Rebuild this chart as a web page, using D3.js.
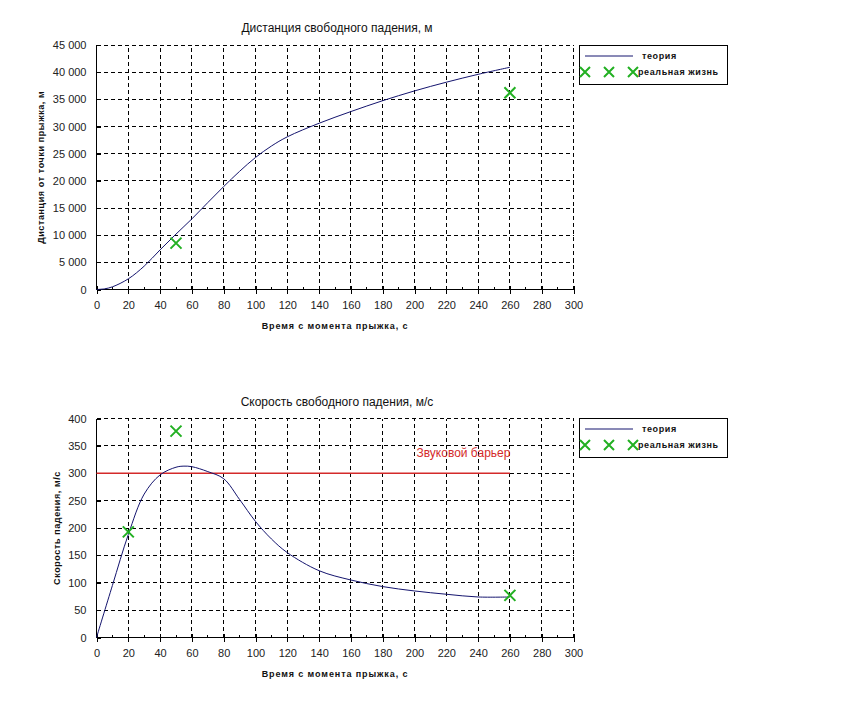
<!DOCTYPE html>
<html><head><meta charset="utf-8">
<script src="https://cdn.jsdelivr.net/npm/d3@7"></script>
<style>
body{margin:0;background:#fff;}
text{font-family:"Liberation Sans",Arial,sans-serif;}
</style></head>
<body><svg id="c" width="856" height="704"></svg>
<script>
// ---- data ----
const xTicks = [0,20,40,60,80,100,120,140,160,180,200,220,240,260,280,300];
const distTicks = [0,5000,10000,15000,20000,25000,30000,35000,40000,45000];
const speedTicks = [0,50,100,150,200,250,300,350,400];

const distTime = [0,5,10,20,30,40,50,60,70,80,90,100,110,120,140,160,180,200,220,240,260];
const distTheory = [0,120,490,1960,4300,7300,10200,13000,16000,18950,21750,24300,26400,28100,30600,32750,34750,36550,38150,39600,40900];
const distRealTime = [50,260];
const distReal = [8530,36200];

const speedTime = [0,10,20,30,40,50,55,60,70,80,90,100,110,120,140,160,180,200,220,240,260];
const speedTheory = [0,95,188,262,297,311,313,312,303,290,252,212,180,155,122,105,93,85,79,74,74];
const speedRealTime = [20,50,260];
const speedReal = [193,377,77];

const soundBarrier = 300;
const soundBarrierEnd = 260;

const titles = ["Дистанция свободного падения, м","Скорость свободного падения, м/с"];
const yLabels = ["Дистанция от точки прыжка, м","Скорость падения, м/с"];
const xLabel = "Время с момента прыжка, с";
const legendLabels = ["теория","реальная жизнь"];
const barrierLabel = "Звуковой барьер";

// ---- drawing ----
const svg = d3.select("#c");
svg.append("rect").attr("width",856).attr("height",704).attr("fill","#fff");
const lineColor = "#14146e", green = "#22b022", red = "#d42a2a";
const fmt = v => d3.format(",")(v).replace(/,/g," ");

function cross(g, x, y, s){
  g.append("path").attr("d",`M${x-s},${y-s}L${x+s},${y+s}M${x-s},${y+s}L${x+s},${y-s}`)
   .attr("stroke",green).attr("stroke-width",2).attr("fill","none");
}

function panel(cfg){
  const x = d3.scaleLinear().domain([0,300]).range([96.5,573.5]);
  const y = d3.scaleLinear().domain([0,cfg.ymax]).range([cfg.bottom,cfg.top]);
  const g = svg.append("g");
  // grid
  g.selectAll(".vg").data(xTicks.filter(d=>d>0)).enter().append("line")
   .attr("x1",d=>x(d)).attr("x2",d=>x(d)).attr("y1",cfg.bottom).attr("y2",cfg.top)
   .attr("stroke","#000").attr("stroke-dasharray","4,3").attr("stroke-width",1).attr("shape-rendering","crispEdges");
  g.selectAll(".hg").data(cfg.yTicks.filter(d=>d>0 && !(cfg.skipGrid||[]).includes(d))).enter().append("line")
   .attr("y1",d=>y(d)).attr("y2",d=>y(d)).attr("x1",x(0)).attr("x2",x(300))
   .attr("stroke","#000").attr("stroke-dasharray","4,3").attr("stroke-width",1).attr("shape-rendering","crispEdges");
  // axes
  const xa = g.append("g").attr("transform",`translate(0,${cfg.bottom})`)
    .call(d3.axisBottom(x).tickValues(xTicks).tickSize(4).tickPadding(8).tickFormat(d3.format("d")));
  xa.select(".domain").attr("d",`M${x(0)},0H${x(300)}`);
  xa.selectAll(".tick line").attr("y1",-4);
  xa.selectAll(".tick text").attr("font-size",11).attr("fill","#222").attr("font-family","Liberation Sans, Arial");
  // minor x ticks
  g.selectAll(".mx").data(d3.range(10,300,20)).enter().append("line")
   .attr("x1",d=>x(d)).attr("x2",d=>x(d)).attr("y1",cfg.bottom).attr("y2",cfg.bottom-3)
   .attr("stroke","#000").attr("shape-rendering","crispEdges");
  const ya = g.append("g").attr("transform",`translate(${x(0)},0)`)
    .call(d3.axisLeft(y).tickValues(cfg.yTicks).tickSize(4).tickPadding(6).tickFormat(fmt));
  ya.select(".domain").attr("d",`M0,${cfg.bottom}V${cfg.top}`);
  ya.selectAll(".tick line").attr("x2",4);
  ya.selectAll(".tick text").attr("font-size",11).attr("fill","#222").attr("font-family","Liberation Sans, Arial");
  svg.selectAll(".domain, .tick line").attr("shape-rendering","crispEdges");

  // title & labels
  svg.append("text").attr("x",337).attr("y",cfg.top-13).attr("text-anchor","middle")
    .attr("font-size",12).attr("fill","#111").text(cfg.title);
  svg.append("text").attr("x",(x(0)+x(300))/2).attr("y",cfg.bottom+39).attr("text-anchor","middle")
    .attr("font-size",9).attr("font-weight","bold").attr("letter-spacing",0.9).attr("fill","#111").text(xLabel);
  svg.append("text").attr("transform",`translate(${cfg.ylx},${(cfg.top+cfg.bottom)/2}) rotate(-90)`)
    .attr("text-anchor","middle").attr("font-size",9).attr("font-weight","bold").attr("letter-spacing",0.6)
    .attr("fill","#111").text(cfg.ylabel);

  // extras (barrier)
  if(cfg.extra) cfg.extra(g,x,y);

  // theory line
  g.append("path").datum(cfg.tx.map((t,i)=>[t,cfg.ty[i]]))
   .attr("d",d3.line().x(d=>x(d[0])).y(d=>y(d[1])).curve(d3.curveCatmullRom.alpha(0.5)))
   .attr("fill","none").attr("stroke",lineColor).attr("stroke-width",1);
  // real points
  cfg.rx.forEach((t,i)=>cross(g,x(t),y(cfg.ry[i]),5.5));

  // legend
  const lx=579, ly=cfg.legendTop;
  svg.append("rect").attr("x",lx+0.5).attr("y",ly+0.5).attr("width",148).attr("height",39)
    .attr("fill","#fff").attr("stroke","#000").attr("stroke-width",1);
  svg.append("line").attr("x1",585).attr("x2",633).attr("y1",ly+11).attr("y2",ly+11)
    .attr("stroke",lineColor).attr("stroke-width",1);
  svg.append("text").attr("x",642).attr("y",ly+14).attr("font-size",9).attr("font-weight","bold")
    .attr("letter-spacing",0.6).attr("fill","#111").text(legendLabels[0]);
  [585,609,633].forEach(cx=>cross(svg,cx,ly+27,5));
  svg.append("text").attr("x",638).attr("y",ly+30).attr("font-size",9).attr("font-weight","bold")
    .attr("letter-spacing",0.6).attr("fill","#111").text(legendLabels[1]);
}

panel({top:45,bottom:289.5,ymax:45000,yTicks:distTicks,title:titles[0],ylabel:yLabels[0],ylx:44,
  tx:distTime,ty:distTheory,rx:distRealTime,ry:distReal,legendTop:45});
panel({top:418.5,bottom:637.5,ymax:400,yTicks:speedTicks,title:titles[1],ylabel:yLabels[1],ylx:60,
  tx:speedTime,ty:speedTheory,rx:speedRealTime,ry:speedReal,legendTop:418,skipGrid:[],
  extra:(g,x,y)=>{
    g.append("line").attr("x1",x(0)).attr("x2",x(soundBarrierEnd)).attr("y1",y(soundBarrier)).attr("y2",y(soundBarrier))
     .attr("stroke",red).attr("stroke-width",1.5);
    g.append("text").attr("x",x(200)+2).attr("y",y(soundBarrier)-16).attr("font-size",12)
     .attr("fill",red).text(barrierLabel);
  }});
</script></body></html>
